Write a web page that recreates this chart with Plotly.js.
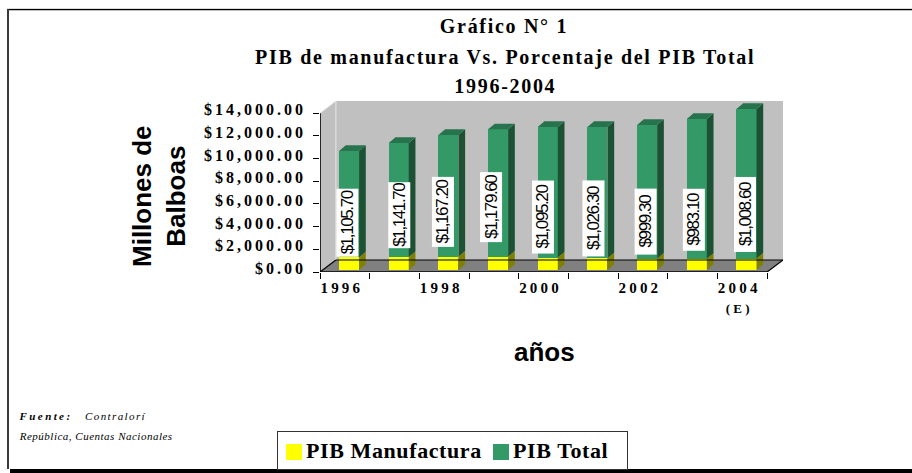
<!DOCTYPE html>
<html>
<head>
<meta charset="utf-8">
<script src="https://cdn.plot.ly/plotly-3.0.1.min.js"></script>
<style>
html,body{margin:0;padding:0;background:#fff;overflow:hidden}
#chart{width:912px;height:473px}
.xtick text{letter-spacing:3.2px}
.ytick text{letter-spacing:3px}
.legendtext{letter-spacing:.6px;transform:translateX(-12px)}
.legendsymbols{transform:translate(-4px,3px)}
.legend .bg{width:350px;height:38px}
.legend .traces:nth-child(1){transform:translate(1px,18px)}
.legend .traces:nth-child(2){transform:translate(208px,18px)}
g.annotation[data-index="0"] text,g.annotation[data-index="1"] text,g.annotation[data-index="2"] text{letter-spacing:1.7px}
g.annotation[data-index="5"] text{letter-spacing:2.4px}
g.annotation[data-index="6"] text{letter-spacing:1.4px}
g.annotation[data-index="7"] text{letter-spacing:.5px}
g.annotation[data-index="8"] text,g.annotation[data-index="9"] text,g.annotation[data-index="10"] text,
g.annotation[data-index="11"] text,g.annotation[data-index="12"] text,g.annotation[data-index="13"] text,
g.annotation[data-index="14"] text,g.annotation[data-index="15"] text,g.annotation[data-index="16"] text{letter-spacing:-1.4px}
</style>
</head>
<body>
<div id="chart"></div>
<script>
// ---- data ----
const years = ["1996","1997","1998","1999","2000","2001","2002","2003","2004"];
const manufactura = [1105.7,1141.7,1167.2,1179.6,1095.2,1026.3,999.3,983.1,1008.6];
const pibTotal = [9394,10063,10743,11230,11520,11589,11791,12337,13191];
const shownTickYears = {0:"1996",2:"1998",4:"2000",6:"2002",8:"2004<br><span style=\"font-size:13px\">(E)</span>"};
const yTicks = [0,2000,4000,6000,8000,10000,12000,14000];
const labelTexts = ["$1,105.70","$1,141.70","$1,167.20","$1,179.60","$1,095.20","$1,026.30","$999.30","$983.10","$1,008.60"];

// ---- pseudo-3D geometry (axis units) ----
const W = 912, H = 473, mL = 320, mR = 129, mT = 101, mB = 201;
const xMin = -0.5, xMax = 8.82, yMax = 15085;
const wallDX = 0.32, wallDY = 1058;     // depth of the chart box
const barShift = 0.085, barW = 0.403;   // front face of a bar
const lift = 176, sideDX = 0.135, sideDY = 500; // bar depth
const yLabelRaise = 310;                // tick labels sit slightly above their ticks
// label placement relative to the top of the yellow bar (px)
const labelXNudge = [-1.5,0.5,-5.5,-7,-5,-4,-1.5,-3,-1];
const labelYNudge = [0.3,8.1,9.8,13.6,3.3,1.4,3.7,7.9,6.6];
const labelLen = [67,65,69,69,72,75,65,61,74];

const xp = years.map((_, i) => i + barShift);
const px = v => (v - mL) / (W - mL - mR);
const py = v => (H - mB - v) / (H - mT - mB);

function prism(lo, hi, withTop) {
  const side = {x: [], y: []}, top = {x: [], y: []};
  xp.forEach((x, i) => {
    const r = x + barW / 2, l = x - barW / 2, a = lo[i], b = hi[i];
    side.x.push(r, r + sideDX, r + sideDX, r, r, null);
    side.y.push(a, a + sideDY, b + sideDY, b, a, null);
    if (withTop) {
      top.x.push(l, l + sideDX, r + sideDX, r, l, null);
      top.y.push(b, b + sideDY, b + sideDY, b, b, null);
    }
  });
  return {side, top};
}
const faceTrace = (g, color) => ({type: "scatter", mode: "lines", x: g.x, y: g.y, fill: "toself",
  fillcolor: color, line: {width: 0, color: color}, hoverinfo: "skip", showlegend: false});

const yBase = manufactura.map(() => lift);
const yTop = manufactura.map(v => lift + v);
const gTop = manufactura.map((v, i) => lift + v + pibTotal[i]);
const yp = prism(yBase, yTop, false), gp = prism(yTop, gTop, true);

const traces = [
  {type: "bar", x: xp, y: manufactura, base: yBase, width: barW, marker: {color: "#ffff00"}, name: "PIB Manufactura", showlegend: false},
  {type: "bar", x: xp, y: pibTotal, base: yTop, width: barW, marker: {color: "#339966"}, name: "PIB Total", showlegend: false},
  faceTrace(yp.side, "#808000"),
  faceTrace(gp.side, "#1c5233"),
  faceTrace(gp.top, "#27734d"),
  {type: "scatter", mode: "markers", x: [null], y: [null], name: "PIB Manufactura", marker: {symbol: "square", size: 16, color: "#ffff00"}},
  {type: "scatter", mode: "markers", x: [null], y: [null], name: "PIB Total", marker: {symbol: "square", size: 16, color: "#339966"}}
];

const serif = "Liberation Serif", sans = "Liberation Sans";
const textNote = (text, x, y, font, extra) => Object.assign({xref: "paper", yref: "paper", x: px(x), y: py(y),
  text, showarrow: false, font, xanchor: "center", yanchor: "middle"}, extra || {});
const tfont = {family: serif, size: 20, color: "#000", weight: 700};
const noteFont = {family: serif, size: 11, color: "#000"};

const annotations = [
  textNote("Gráfico N° 1", 504, 26, tfont),
  textNote("PIB de manufactura Vs. Porcentaje del PIB Total", 505, 57, tfont),
  textNote("1996-2004", 505, 86, tfont),
  textNote("Millones de<br>Balboas", 159, 196, {family: sans, size: 26, color: "#000", weight: 700}, {textangle: -90}),
  textNote("años", 544, 352, {family: sans, size: 26, color: "#000", weight: 700}),
  textNote("<b><i>Fuente:</i></b>", 45, 416, noteFont),
  textNote("<i>Contralorí</i>", 116, 416, noteFont),
  textNote("<i>República, Cuentas Nacionales</i>", 95, 436, noteFont)
].concat(labelTexts.map((t, i) => ({
  xref: "x", yref: "y", x: xp[i], y: yTop[i], text: t, showarrow: false, textangle: -90,
  xanchor: "center", yanchor: "bottom", xshift: labelXNudge[i], yshift: labelYNudge[i],
  bgcolor: "#fff", borderpad: 0, width: labelLen[i], height: 21, align: "center", valign: "middle",
  font: {family: sans, size: 17, color: "#000"}, captureevents: false
})));

const seg = (x0, y0, x1, y1, color, width) => ({type: "line", xref: "x", yref: "y", x0, y0, x1, y1, layer: "above",
  line: {color, width: width || 1.5}});
const poly = (pts, color) => ({type: "path", xref: "x", yref: "y", layer: "below", fillcolor: color, line: {width: 0},
  path: "M" + pts.map(p => p.join(" ")).join(" L") + " Z"});
const frame = (x0, y0, x1, y1, color) => ({type: "rect", xref: "paper", yref: "paper", layer: "above",
  x0: px(x0), x1: px(x1), y0: py(y0), y1: py(y1), fillcolor: color, line: {width: 0}});

const xL = xMin, xR = 8.5, xB = xMin + wallDX;
const shapes = [
  poly([[xB, wallDY], [xMax, wallDY], [xMax, yMax], [xB, yMax]], "#c0c0c0"),
  poly([[xL, 0], [xB, wallDY], [xB, yMax], [xL, 14000]], "#c0c0c0"),
  poly([[xL, 0], [xR, 0], [xMax, wallDY], [xB, wallDY]], "#808080"),
  seg(xB, wallDY, xB, yMax, "#e4e4e4", 1),
  seg(xL, 14000, xB, yMax, "#e4e4e4", 1),
  seg(xB, wallDY, xMax, wallDY, "#000", 1.2),
  seg(xL, 0, xB, wallDY, "#000", 1.2),
  seg(xR, 0, xMax, wallDY, "#000", 1.2),
  seg(xL, 0, xR, 0, "#000", 1.6),
  seg(xL, 0, xL, 14000, "#000", 1.6),
  frame(7, 8, 912, 9, "#dcdcdc"),
  frame(7, 9, 912, 10.3, "#000"),
  frame(7, 9, 9, 469, "#3a3a3a"),
  frame(10, 469, 912, 473, "#000")
];

const layout = {
  width: W, height: H, autosize: false,
  margin: {l: mL, r: mR, t: mT, b: mB, pad: 0},
  paper_bgcolor: "#fff", plot_bgcolor: "rgba(0,0,0,0)",
  barmode: "overlay", bargap: 0, hovermode: false,
  xaxis: {
    range: [xMin, xMax], showgrid: false, zeroline: false, showline: false, automargin: false,
    tickmode: "array",
    tickvals: Object.keys(shownTickYears).map(k => +k - 0.06),
    ticktext: Object.values(shownTickYears),
    ticks: "", ticklen: 0, tickangle: 0, ticklabelstandoff: 5,
    tickfont: {family: serif, size: 15, color: "#000", weight: 700},
    minor: {tickmode: "array", tickvals: [-0.5,0.5,1.5,2.5,3.5,4.5,5.5,6.5,7.5,8.5], ticks: "outside", ticklen: 6, tickcolor: "#000", tickwidth: 1, showgrid: false}
  },
  yaxis: {
    range: [0, yMax], showgrid: false, zeroline: false, showline: false, automargin: false,
    tickmode: "array", tickvals: yTicks.map(v => v + yLabelRaise), ticktext: yTicks.map(v => "$" + v.toLocaleString("en-US") + ".00"),
    ticks: "", ticklen: 0, ticklabelstandoff: 13,
    tickfont: {family: serif, size: 16, color: "#000", weight: 700},
    minor: {tickmode: "array", tickvals: yTicks, ticks: "outside", ticklen: 6, tickcolor: "#000", tickwidth: 1, showgrid: false}
  },
  showlegend: true,
  legend: {
    orientation: "h", xref: "container", yref: "container", x: 277 / W, y: 1 - 431 / H, xanchor: "left", yanchor: "top",
    bgcolor: "#fff", bordercolor: "#333", borderwidth: 1,
    font: {family: serif, size: 22, color: "#000", weight: 700},
    itemsizing: "trace", traceorder: "normal"
  },
  shapes, annotations
};
Plotly.newPlot("chart", traces, layout, {displayModeBar: false, responsive: false}).then(() => {});
</script>
</body>
</html>
